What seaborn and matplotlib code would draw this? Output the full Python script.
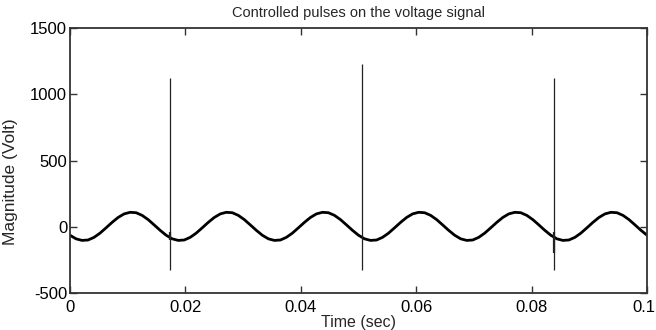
import matplotlib
matplotlib.use("Agg")
import matplotlib.pyplot as plt
import matplotlib.transforms as mtransforms
import numpy as np
import pandas as pd
import seaborn as sns

# voltage samples, one every 1/960 s from 0 to 0.1 s
voltage = [
    -64, -91, -103, -100, -80, -48, -8, 33, 70, 97, 109, 106, 86, 54, 14, -27,
    -64, -91, -103, -100, -80, -48, -8, 33, 70, 97, 109, 106, 86, 54, 14, -27,
    -64, -91, -103, -100, -80, -48, -8, 33, 70, 97, 109, 106, 86, 54, 14, -27,
    -64, -91, -103, -100, -80, -48, -8, 33, 70, 97, 109, 106, 86, 54, 14, -27,
    -64, -91, -103, -100, -80, -48, -8, 33, 70, 97, 109, 106, 86, 54, 14, -27,
    -64, -91, -103, -100, -80, -48, -8, 33, 70, 97, 109, 106, 86, 54, 14, -27,
    -64,
]
time_sec = np.linspace(0, 0.1, len(voltage))

# controlled pulses
pulse_t = [0.01735, 0.0506, 0.0839]
pulse_top = [1125, 1225, 1125]
pulse_bottom = [-330, -330, -330]
# short thicker stubs on the pulses
stub_t = [0.01735, 0.0839]
stub_top = [-37, -37]
stub_bottom = [-100, -200]

x_ticks = [0, 0.02, 0.04, 0.06, 0.08, 0.1]
x_labels = ["0", "0.02", "0.04", "0.06", "0.08", "0.1"]
y_ticks = [-500, 0, 500, 1000, 1500]

df = pd.DataFrame({"Time": time_sec, "Voltage": voltage})

sns.set_theme(style="white")
plt.rcParams["font.family"] = ["Liberation Sans", "DejaVu Sans"]
plt.rcParams["axes.unicode_minus"] = False

fig = plt.figure(figsize=(6.56, 3.30), dpi=100)
ax = fig.add_axes([0.1067, 0.1121, 0.8796, 0.803])

sns.lineplot(data=df, x="Time", y="Voltage", color="black", linewidth=2.0,
             estimator=None, sort=False, ax=ax)
ax.vlines(pulse_t, pulse_bottom, pulse_top, color="#222222", linewidth=0.9)
ax.vlines(stub_t, stub_bottom, stub_top, color="#222222", linewidth=1.6)

ax.set_xlim(0, 0.1)
ax.set_ylim(-500, 1500)
ax.set_xticks(x_ticks)
ax.set_xticklabels(x_labels)
ax.set_yticks(y_ticks)
ax.tick_params(direction="in", length=5, width=1, colors="#333333",
               labelcolor="black", labelsize=12, top=True, right=True,
               bottom=True, left=True, pad=2)
ax.tick_params(axis="x", pad=5)
for side in ax.spines.values():
    side.set_color("#333333")
    side.set_linewidth(1.3)

# keep the last x label inside the figure
last = ax.get_xticklabels()[-1]
last.set_transform(last.get_transform() +
                   mtransforms.ScaledTranslation(-3 / 100, 0, fig.dpi_scale_trans))

ax.set_title("Controlled pulses on the voltage signal", fontsize=10.5, pad=8)
ax.set_xlabel("Time (sec)", fontsize=11.5, labelpad=0)
ax.set_ylabel("Magnitude (Volt)", fontsize=12.5)
ax.yaxis.set_label_coords(-0.09, 0.42)

fig.savefig("out.png", dpi=100)
